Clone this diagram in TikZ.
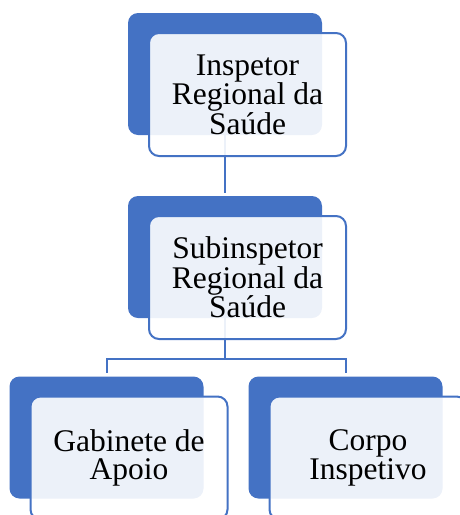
\documentclass[tikz,border=0pt]{standalone}
\usepackage{fontspec}
\setmainfont{Liberation Serif}
\usepackage{tikz}
\definecolor{smblue}{HTML}{4472C4}
\tikzset{
	back/.style={fill=smblue, rounded corners=10pt, minimum width=194pt, minimum height=122pt, inner sep=0pt},
	front/.style={draw=smblue, line width=2pt, fill=white, fill opacity=0.9, text opacity=1, rounded corners=10pt, minimum width=197pt, minimum height=123pt, align=center, inner sep=0pt, font=\fontsize{31.5}{28.5}\selectfont},
	link/.style={draw=smblue, line width=2pt, shorten >=3pt}
}
\begin{document}
\begin{tikzpicture}[x=1pt,y=-1pt]
				\useasboundingbox (0,0) rectangle (460,515);
				\foreach \n/\x/\y in {ins/225/74, sub/225/257, gab/106.5/437.5, cor/345.5/437.5} {
					\node[back] (\n b) at (\x,\y) {};
				}
				\draw[link] (insb.south) -- (subb.north);
				\draw[link] (subb.south) -- ++(0,41) -| (gabb.north);
				\draw[link] (subb.south) -- ++(0,41) -| (corb.north);
				\foreach \n/\x/\y/\t in {ins/225/74/{Inspetor\\Regional da\\Saúde}, sub/225/257/{Subinspetor\\Regional da\\Saúde}, gab/106.5/437.5/{Gabinete de\\Apoio}, cor/345.5/437.5/{Corpo\\Inspetivo}} {
					\node[front] (\n f) at (\x+22.5,\y+20.5) {\t};
				}
\end{tikzpicture}
\end{document}
